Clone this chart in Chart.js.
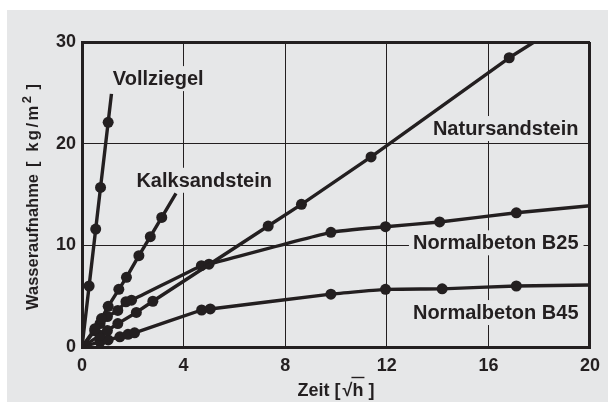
<!DOCTYPE html>
<html><head><meta charset="utf-8">
<script src="https://cdn.jsdelivr.net/npm/chart.js@4/dist/chart.umd.min.js"></script>
<style>
html,body{margin:0;padding:0;background:#fff;width:608px;height:402px;overflow:hidden}
#wrap{position:absolute;left:7px;top:10px;width:601px;height:392px;background:#e6e7e8}
canvas{display:block}
</style></head><body>
<div id="wrap"><canvas id="c" width="601" height="392"></canvas></div>
<script>
// ---- data (x = sqrt(time) in sqrt(h), y = water uptake kg/m2) ----
const vollX = [0, 0.28, 0.54, 0.73, 1.03, 1.16];
const vollY = [0, 6.0, 11.6, 15.7, 22.1, 24.9];
const kalkX = [0, 0.51, 0.77, 1.03, 1.45, 1.75, 2.24, 2.69, 3.14, 3.7];
const kalkY = [0, 1.8, 2.8, 4.0, 5.67, 6.85, 8.98, 10.85, 12.75, 15.1];
const naturX = [0, 0.71, 1.0, 1.41, 2.14, 2.79, 7.33, 8.64, 11.38, 16.82, 17.8];
const naturY = [0, 1.15, 1.62, 2.3, 3.4, 4.5, 11.9, 14.03, 18.7, 28.45, 30];
const b25X = [0, 0.5, 0.71, 1.0, 1.41, 1.73, 1.95, 4.7, 5.0, 9.8, 11.95, 14.08, 17.1, 20];
const b25Y = [0, 1.6, 2.3, 3.0, 3.6, 4.45, 4.6, 8.0, 8.15, 11.28, 11.83, 12.3, 13.2, 13.9];
const b45X = [0, 0.71, 1.03, 1.49, 1.81, 2.07, 4.71, 5.05, 9.8, 11.95, 14.18, 17.1, 20];
const b45Y = [0, 0.5, 0.69, 1.0, 1.25, 1.4, 3.64, 3.74, 5.2, 5.67, 5.72, 6.0, 6.1];
const xTicks = [0, 4, 8, 12, 16, 20];
const yTicks = [0, 10, 20, 30];
const seriesNames = ['Vollziegel', 'Kalksandstein', 'Natursandstein', 'Normalbeton B25', 'Normalbeton B45'];
// label anchors (left / baseline, in data units)
const labelX = [1.213, 2.141, 13.816, 13.03, 13.03];
const labelY = [25.76, 15.76, 20.85, 9.61, 2.75];

const INK = '#231f20';
const BG = '#e6e7e8';
const FONT = '"Liberation Sans", Arial, Helvetica, sans-serif';

function pts(xs, ys){ return xs.map((v,i)=>({x:v, y:ys[i]})); }
function ds(name, xs, ys, tension){
  return {
    label: name, data: pts(xs, ys),
    borderColor: INK, backgroundColor: INK, borderWidth: 3.4,
    pointRadius: c => (c.dataIndex === 0 || c.dataIndex === xs.length-1) ? 0 : 5.5,
    pointBorderWidth: 0, pointBackgroundColor: INK,
    tension: tension, borderJoinStyle: 'round',
    showLine: true, fill: false
  };
}

const labelPlugin = {
  id: 'labels',
  beforeDatasetsDraw(chart){
    const {ctx, scales:{x, y}} = chart;
    ctx.save();
    ctx.font = 'bold 20px ' + FONT;
    seriesNames.forEach((t,i)=>{
      const px = x.getPixelForValue(labelX[i]), py = y.getPixelForValue(labelY[i]);
      const w = ctx.measureText(t).width;
      ctx.fillStyle = BG;
      ctx.fillRect(px-4, py-19, w+9, 25);
      ctx.fillStyle = INK;
      ctx.textAlign = 'left'; ctx.textBaseline = 'alphabetic';
      ctx.fillText(t, px, py);
    });
    ctx.restore();
  },
  afterDraw(chart){
    const {ctx} = chart;
    ctx.save();
    ctx.fillStyle = INK; ctx.strokeStyle = INK;
    ctx.textBaseline = 'alphabetic'; ctx.textAlign = 'left';
    // y title
    ctx.translate(30.7, 186);
    ctx.rotate(-Math.PI/2);
    const f1 = 'bold 16.5px ' + FONT, f2 = 'bold 13px ' + FONT;
    const parts = [
      {t:'Wasseraufnahme', f:f1, dy:0, ls:'0px'},
      {t:' [ kg/m', f:f1, dy:0, ls:'2.5px'},
      {t:'2', f:f2, dy:-7, ls:'0px'},
      {t:' ]', f:f1, dy:0, ls:'2px'}
    ];
    let total = 0;
    parts.forEach(p => { ctx.font = p.f; ctx.letterSpacing = p.ls; p.w = ctx.measureText(p.t).width; total += p.w; });
    let sx = -total/2;
    parts.forEach(p => { ctx.font = p.f; ctx.letterSpacing = p.ls; ctx.fillText(p.t, sx, p.dy); sx += p.w; });
    ctx.restore();
    // x title
    ctx.save();
    ctx.fillStyle = INK; ctx.strokeStyle = INK;
    ctx.textBaseline = 'alphabetic'; ctx.textAlign = 'left';
    ctx.font = 'bold 18px ' + FONT;
    const q1 = 'Zeit [', q2 = '\u221A', q3 = 'h', q4 = ' ]';
    const a = ctx.measureText(q1).width, b = ctx.measureText(q2).width,
          c = ctx.measureText(q3).width, d = ctx.measureText(q4).width;
    let tx = 328 - (a+b+c+d)/2, base = 386;
    ctx.fillText(q1, tx, base); tx += a + 2;
    ctx.fillText(q2, tx, base);
    const ox = tx + b - 1; tx += b;
    ctx.fillText(q3, tx, base); tx += c;
    ctx.beginPath(); ctx.lineWidth = 1.4;
    ctx.moveTo(ox, base-18.5); ctx.lineTo(tx+1, base-18.5); ctx.stroke();
    ctx.fillText(q4, tx, base);
    ctx.restore();
  }
};

new Chart(document.getElementById('c'), {
  type: 'line',
  data: { datasets: [
    ds(seriesNames[0], vollX, vollY, 0),
    ds(seriesNames[1], kalkX, kalkY, 0),
    ds(seriesNames[2], naturX, naturY, 0),
    ds(seriesNames[3], b25X, b25Y, 0.15),
    ds(seriesNames[4], b45X, b45Y, 0.1)
  ]},
  options: {
    responsive: false, animation: false, devicePixelRatio: 1,
    layout: { padding: { left: 0, right: 15, top: 32, bottom: 0 } },
    plugins: { legend: { display: false }, tooltip: { enabled: false } },
    scales: {
      x: {
        type: 'linear', min: 0, max: 20,
        afterFit: s => { s.height = 55; },
        afterBuildTicks: s => { s.ticks = xTicks.map(v => ({value: v})); },
        ticks: { color: INK, font: { family: FONT, size: 18, weight: 'bold' }, padding: 8, maxRotation: 0 },
        grid: { color: INK, drawTicks: false, lineWidth: c => (c.tick && (c.tick.value === 0 || c.tick.value === 20)) ? 3 : 1 },
        border: { display: true, color: INK, width: 3 }
      },
      y: {
        type: 'linear', min: 0, max: 30,
        afterFit: s => { s.width = 75; },
        afterBuildTicks: s => { s.ticks = yTicks.map(v => ({value: v})); },
        ticks: { color: INK, font: { family: FONT, size: 18, weight: 'bold' }, padding: 6 },
        grid: { color: INK, drawTicks: false, lineWidth: c => (c.tick && (c.tick.value === 0 || c.tick.value === 30)) ? 3 : 1 },
        border: { display: true, color: INK, width: 3 }
      }
    }
  },
  plugins: [labelPlugin]
});
</script>
</body></html>
